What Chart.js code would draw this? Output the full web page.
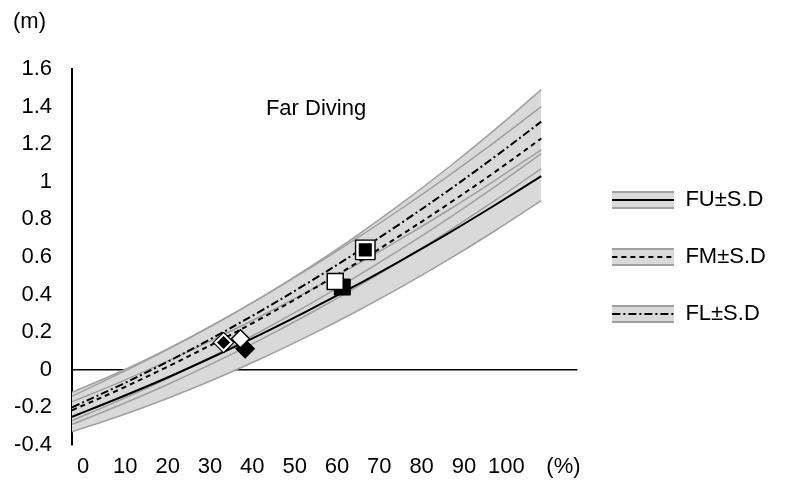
<!DOCTYPE html>
<html>
<head>
<meta charset="utf-8">
<script src="https://cdn.jsdelivr.net/npm/chart.js@4.4.0/dist/chart.umd.min.js"></script>
<style>
  html, body { margin: 0; padding: 0; background: #fff; }
</style>
</head>
<body>
<canvas id="chart" width="790" height="499"></canvas>
<script>
// curves every 10 %
var pct = [0, 10, 20, 30, 40, 50, 60, 70, 80, 90, 100];

var fuMean  = [-0.25, -0.15, -0.045, 0.068, 0.186, 0.311, 0.442, 0.580, 0.723, 0.874, 1.03];
var fuUpper = [-0.17, -0.068, 0.042, 0.159, 0.282, 0.413, 0.55, 0.695, 0.846, 1.005, 1.17];
var fuLower = [-0.33, -0.247, -0.155, -0.054, 0.056, 0.175, 0.302, 0.438, 0.583, 0.737, 0.90];

var fmMean  = [-0.215, -0.106, 0.012, 0.137, 0.269, 0.41, 0.558, 0.715, 0.879, 1.05, 1.23];
var fmUpper = [-0.14, -0.022, 0.104, 0.238, 0.38, 0.53, 0.688, 0.854, 1.028, 1.21, 1.40];
var fmLower = [-0.29, -0.19, -0.082, 0.034, 0.158, 0.29, 0.43, 0.578, 0.734, 0.898, 1.07];

var flMean  = [-0.20, -0.085, 0.038, 0.17, 0.31, 0.458, 0.614, 0.778, 0.95, 1.131, 1.32];
var flUpper = [-0.12, -0.013, 0.106, 0.237, 0.38, 0.535, 0.702, 0.881, 1.072, 1.275, 1.49];
var flLower = [-0.27, -0.164, -0.05, 0.072, 0.202, 0.34, 0.486, 0.64, 0.802, 0.972, 1.15];

// single measured points
var diamondX = [32.3, 35.9, 36.9];
var diamondY = [0.145, 0.165, 0.112];
var squareX = [56.1, 57.6, 62.5];
var squareY = [0.47, 0.44, 0.638];

var xTicks = [0, 10, 20, 30, 40, 50, 60, 70, 80, 90, 100];
var seriesNames = ['FU±S.D', 'FM±S.D', 'FL±S.D'];
var panelTitle = 'Far Diving';

var FONT = 'Liberation Sans';
var GRAY_FILL = '#d9d9d9';
var GRAY_LINE = '#a0a0a0';
var dashFM = [5, 4];
var dashFL = [8, 3, 2, 3];

function pts(ys) {
    return pct.map(function (p, i) { return { x: p, y: ys[i] }; });
}

function bound(label, ys, fillTo) {
    return {
        label: label,
        data: pts(ys),
        borderColor: GRAY_LINE,
        borderWidth: 1.5,
        backgroundColor: GRAY_FILL,
        fill: fillTo === null ? false : { target: fillTo },
        pointRadius: 0,
        tension: 0.35,
        order: 50
    };
}

function mean(label, ys, dash) {
    return {
        label: label,
        data: pts(ys),
        borderColor: '#000',
        borderWidth: 2,
        borderDash: dash,
        fill: false,
        pointRadius: 0,
        tension: 0.35,
        order: 40
    };
}

function marker(x, y, style, r, bg, border, bw, order) {
    return {
        label: 'pt',
        data: [{ x: x, y: y }],
        showLine: false,
        pointStyle: style,
        pointRadius: r,
        pointHoverRadius: r,
        backgroundColor: bg,
        borderColor: border,
        borderWidth: bw,
        order: order
    };
}

function swatch(dash) {
    var c = document.createElement('canvas');
    c.width = 62; c.height = 20;
    var g = c.getContext('2d');
    g.fillStyle = GRAY_FILL;
    g.fillRect(0, 2, 62, 16);
    g.strokeStyle = GRAY_LINE;
    g.lineWidth = 2;
    g.beginPath();
    g.moveTo(0, 2); g.lineTo(62, 2);
    g.moveTo(0, 18); g.lineTo(62, 18);
    g.stroke();
    g.strokeStyle = '#000';
    g.setLineDash(dash);
    g.beginPath();
    g.moveTo(0, 10); g.lineTo(62, 10);
    g.stroke();
    return c;
}
var swatches = [swatch([]), swatch(dashFM), swatch(dashFL)];

var farLabel = {
    id: 'farLabel',
    afterDatasetsDraw: function (chart) {
        var ctx = chart.ctx;
        ctx.save();
        ctx.font = '22px "' + FONT + '"';
        ctx.fillStyle = '#000';
        ctx.textAlign = 'center';
        ctx.textBaseline = 'middle';
        ctx.fillText(panelTitle, chart.scales.x.getPixelForValue(52), chart.scales.y.getPixelForValue(1.39));
        ctx.restore();
    }
};

var ctx = document.getElementById('chart');

var chartGraph = new Chart(ctx, {
    type: 'line',
    data: {
        datasets: [
            bound('FU+SD', fuUpper, 1),
            bound('FU-SD', fuLower, null),
            bound('FM+SD', fmUpper, 3),
            bound('FM-SD', fmLower, null),
            bound('FL+SD', flUpper, 5),
            bound('FL-SD', flLower, null),
            mean('FU', fuMean, []),
            mean('FM', fmMean, dashFM),
            mean('FL', flMean, dashFL),
            marker(diamondX[0], diamondY[0], 'rectRot', 10.5, '#000', '#000', 1, 10),
            marker(diamondX[0], diamondY[0], 'rectRot', 8, '#000', '#fff', 2, 9),
            marker(diamondX[2], diamondY[2], 'rectRot', 9.5, '#000', '#000', 1, 8),
            marker(diamondX[1], diamondY[1], 'rectRot', 9, '#fff', '#000', 1.5, 7),
            marker(squareX[1], squareY[1], 'rect', 11.3, '#000', '#000', 1, 6),
            marker(squareX[0], squareY[0], 'rect', 11.3, '#fff', '#000', 1.5, 5),
            marker(squareX[2], squareY[2], 'rect', 14, '#000', '#000', 1, 4),
            marker(squareX[2], squareY[2], 'rect', 11, '#000', '#fff', 2.5, 3)
        ]
    },
    options: {
        responsive: false,
        animation: false,
        events: [],
        layout: { padding: { left: 13, right: 24.5, top: 0, bottom: 0 } },
        font: { family: FONT, size: 22 },
        scales: {
            x: {
                type: 'linear',
                display: false,
                min: 0,
                max: 107.7
            },
            x2: {
                type: 'linear',
                position: 'bottom',
                min: -2.6,
                max: 116.8,
                grid: { display: false, drawTicks: false },
                border: { display: false },
                afterFit: function (scale) { scale.height = 54; },
                afterBuildTicks: function (axis) {
                    axis.ticks = xTicks.map(function (v) { return { value: v }; }).concat([{ value: 113.5 }]);
                },
                ticks: {
                    autoSkip: false,
                    maxRotation: 0,
                    padding: 8.8,
                    color: '#000',
                    font: { family: FONT, size: 22 },
                    callback: function (v) { return v === 113.5 ? '(%)' : String(v); }
                }
            },
            y: {
                min: -0.4,
                max: 1.6,
                afterFit: function (scale) { scale.width = 59; },
                grid: {
                    drawTicks: false,
                    color: function (c) { return c.tick && Math.abs(c.tick.value) < 1e-9 ? '#000' : 'rgba(0,0,0,0)'; },
                    lineWidth: 1.5
                },
                border: { display: true, color: '#000', width: 2 },
                ticks: {
                    stepSize: 0.2,
                    padding: 20,
                    color: '#000',
                    font: { family: FONT, size: 22 },
                    callback: function (v) { return String(Math.round(v * 10) / 10); }
                }
            }
        },
        plugins: {
            filler: { drawTime: 'beforeDatasetsDraw' },
            tooltip: { enabled: false },
            title: {
                display: true,
                text: '(m)',
                align: 'start',
                color: '#000',
                font: { family: FONT, size: 22, weight: 'normal' },
                padding: { top: 9, bottom: 33.6 }
            },
            legend: {
                position: 'right',
                fullSize: false,
                labels: {
                    usePointStyle: true,
                    pointStyleWidth: 62,
                    padding: 35,
                    color: '#000',
                    font: { family: FONT, size: 22 },
                    generateLabels: function () {
                        return seriesNames.map(function (name, i) {
                            return {
                                text: name,
                                pointStyle: swatches[i],
                                fillStyle: 'rgba(0,0,0,0)',
                                strokeStyle: 'rgba(0,0,0,0)',
                                lineWidth: 0,
                                hidden: false,
                                datasetIndex: 6 + i
                            };
                        });
                    }
                }
            }
        }
    },
    plugins: [farLabel]
});
</script>
</body>
</html>
